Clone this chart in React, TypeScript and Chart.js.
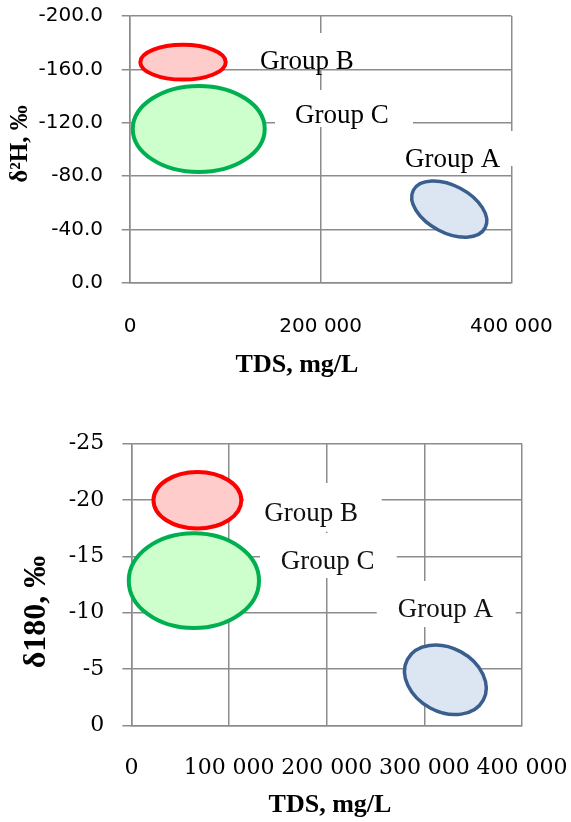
import React, { useEffect, useRef } from 'react';
import { Chart, registerables } from 'chart.js';

Chart.register(...registerables);

// ---------------- data ----------------
const groupNames = ['Group A', 'Group B', 'Group C'];

// δ²H vs TDS (upper chart): ellipse centres and semi-axes in data units
const h2TdsCenter = [334800, 55600, 72100];
const h2DeltaCenter = [-55.2, -165.4, -115.3];
const h2TdsRadius = [42500, 44800, 69200];
const h2DeltaRadius = [17.7, 13.1, 32.3];
const h2TiltDeg = [27.7, 0, 0];
const h2YTicks = [-200, -160, -120, -80, -40, 0];
const h2XTicks = [0, 200000, 400000];

// δ18O vs TDS (lower chart)
const o18TdsCenter = [321500, 67500, 63900];
const o18DeltaCenter = [-4.04, -19.98, -12.84];
const o18TdsRadius = [44100, 45000, 66700];
const o18DeltaRadius = [2.84, 2.51, 4.21];
const o18TiltDeg = [28.3, 0, 0];
const o18YTicks = [-25, -20, -15, -10, -5, 0];
const o18XTicks = [0, 100000, 200000, 300000, 400000];

// ---------------- styles ----------------
const groupStroke = ['#3A5F8E', '#FF0000', '#00B050'];
const groupFill = ['#DCE6F2', '#FFCCCC', '#CCFFCC'];
const groupLineWidth = [3.5, 4, 4];
const gridColor = '#8c8c8c';

const fmtThousands = (v: number) =>
  v === 0 ? '0' : String(v).replace(/\B(?=(\d{3})+(?!\d))/g, ' ');

const zeroPad = (s: any) => {
  s.paddingLeft = 0;
  s.paddingRight = 0;
  s.paddingTop = 0;
  s.paddingBottom = 0;
};

const groupPlugin = {
  id: 'groupShapes',
  afterDatasetsDraw(chart: any, _args: any, opts: any) {
    const { ctx } = chart;
    const xs = chart.scales.x;
    const ys = chart.scales.y;
    ctx.save();
    ctx.fillStyle = '#ffffff';
    opts.boxes.forEach((b: number[]) => ctx.fillRect(b[0], b[1], b[2], b[3]));
    const pts = chart.data.datasets[0].data;
    pts.forEach((p: any, i: number) => {
      const cx = xs.getPixelForValue(p.x);
      const cy = ys.getPixelForValue(p.y);
      const rx = Math.abs(xs.getPixelForValue(p.x + p.rx) - cx);
      const ry = Math.abs(ys.getPixelForValue(p.y + p.ry) - cy);
      ctx.beginPath();
      ctx.ellipse(cx, cy, rx, ry, (p.tilt * Math.PI) / 180, 0, Math.PI * 2);
      ctx.fillStyle = groupFill[i];
      ctx.fill();
      ctx.lineWidth = groupLineWidth[i];
      ctx.strokeStyle = groupStroke[i];
      ctx.stroke();
    });
    ctx.font = opts.labelFont;
    ctx.fillStyle = opts.labelColor;
    ctx.textAlign = 'left';
    ctx.textBaseline = 'alphabetic';
    opts.labels.forEach((l: number[], i: number) => ctx.fillText(groupNames[i], l[0], l[1]));
    ctx.restore();
  },
};

const titlePlugin = {
  id: 'axisTitles',
  afterDraw(chart: any, _args: any, opts: any) {
    const { ctx } = chart;
    ctx.save();
    ctx.font = opts.xFont;
    ctx.fillStyle = '#000';
    ctx.textAlign = 'center';
    ctx.textBaseline = 'alphabetic';
    ctx.fillText(opts.xText, opts.xPos[0], opts.xPos[1]);
    ctx.translate(opts.yPos[0], opts.yPos[1]);
    ctx.rotate(-Math.PI / 2);
    ctx.font = opts.yFont;
    ctx.textBaseline = 'middle';
    ctx.fillText(opts.yText, 0, 0);
    ctx.restore();
  },
};

function makeConfig(p: any) {
  const data = groupNames.map((_, i) => ({
    x: p.cx[i],
    y: p.cy[i],
    rx: p.rx[i],
    ry: p.ry[i],
    tilt: p.tilt[i],
  }));
  return {
    type: 'scatter',
    data: {
      datasets: [{ label: 'groups', data, pointRadius: 0, pointHoverRadius: 0, borderWidth: 0, showLine: false }],
    },
    options: {
      responsive: false,
      animation: false,
      events: [],
      layout: { padding: p.padding, autoPadding: false },
      scales: {
        x: {
          type: 'linear',
          min: p.xTicks[0],
          max: p.xTicks[p.xTicks.length - 1],
          afterBuildTicks: (s: any) => {
            s.ticks = p.xTicks.map((v: number) => ({ value: v }));
          },
          afterFit: (s: any) => {
            s.height = p.xAxisHeight;
            zeroPad(s);
          },
          ticks: {
            autoSkip: false,
            maxRotation: 0,
            minRotation: 0,
            padding: p.xTickPad,
            color: '#000',
            font: p.xTickFont,
            callback: (v: number) => fmtThousands(v),
          },
          grid: { color: gridColor, lineWidth: 1.5, drawTicks: false },
          border: { color: gridColor, width: 1.5 },
        },
        y: {
          type: 'linear',
          reverse: true,
          min: p.yTicks[0],
          max: p.yTicks[p.yTicks.length - 1],
          afterBuildTicks: (s: any) => {
            s.ticks = p.yTicks.map((v: number) => ({ value: v }));
          },
          afterFit: (s: any) => {
            s.width = p.yAxisWidth;
            zeroPad(s);
          },
          ticks: {
            padding: p.yTickPad,
            color: '#000',
            font: p.yTickFont,
            callback: p.yFmt,
          },
          grid: { color: gridColor, lineWidth: 1.5, tickLength: p.tickLength },
          border: { color: gridColor, width: 1.5 },
        },
      },
      plugins: {
        legend: { display: false },
        tooltip: { enabled: false },
        groupShapes: {
          boxes: p.boxes,
          labels: p.labels,
          labelFont: p.labelFont,
          labelColor: p.labelColor,
        },
        axisTitles: p.titles,
      },
    },
    plugins: [groupPlugin, titlePlugin],
  };
}

export default function App() {
  const topRef = useRef<HTMLCanvasElement>(null);
  const botRef = useRef<HTMLCanvasElement>(null);

  useEffect(() => {
    const topCfg = makeConfig({
      cx: h2TdsCenter,
      cy: h2DeltaCenter,
      rx: h2TdsRadius,
      ry: h2DeltaRadius,
      tilt: h2TiltDeg,
      xTicks: h2XTicks,
      yTicks: h2YTicks,
      padding: { left: 0, right: 59.6, top: 16, bottom: 0 },
      xAxisHeight: 107.3,
      yAxisWidth: 130,
      xTickPad: 32,
      yTickPad: 18.7,
      tickLength: 8.3,
      xTickFont: { family: '"DejaVu Sans"', size: 20 },
      yTickFont: { family: '"DejaVu Sans"', size: 20 },
      yFmt: (v: number) => Number(v).toFixed(1),
      boxes: [
        [395, 131, 125, 35],
        [250, 33, 112, 35.5],
        [275, 90, 138, 37],
      ],
      labels: [
        [405, 166.7],
        [260, 69.3],
        [295, 123.3],
      ],
      labelFont: '27px "Liberation Serif"',
      labelColor: '#000',
      titles: {
        xFont: 'bold 26px "Liberation Serif"',
        yFont: 'bold 25px "Liberation Serif"',
        xText: 'TDS, mg/L',
        xPos: [297, 372],
        yText: 'δ²H, ‰',
        yPos: [21, 144],
      },
    });
    const botCfg = makeConfig({
      cx: o18TdsCenter,
      cy: o18DeltaCenter,
      rx: o18TdsRadius,
      ry: o18DeltaRadius,
      tilt: o18TiltDeg,
      xTicks: o18XTicks,
      yTicks: o18YTicks,
      padding: { left: 0, right: 49, top: 53.7, bottom: 0 },
      xAxisHeight: 96.7,
      yAxisWidth: 131.5,
      xTickPad: 29.5,
      yTickPad: 18.1,
      tickLength: 9.1,
      xTickFont: { family: '"DejaVu Serif"', size: 22 },
      yTickFont: { family: '"DejaVu Serif"', size: 22 },
      yFmt: (v: number) => String(Math.round(v)),
      boxes: [
        [376.7, 191, 139, 46],
        [244, 93, 137.7, 48.7],
        [260, 143, 136.7, 45],
      ],
      labels: [
        [397.7, 226.7],
        [264.3, 130.7],
        [280.7, 179],
      ],
      labelFont: '27px "Liberation Serif"',
      labelColor: '#111',
      titles: {
        xFont: 'bold 26px "Liberation Serif"',
        yFont: 'bold 32px "Liberation Serif"',
        xText: 'TDS, mg/L',
        xPos: [330, 422.3],
        yText: 'δ180, ‰',
        yPos: [37, 222],
      },
    });
    const c1 = new Chart(topRef.current as HTMLCanvasElement, topCfg as any);
    const c2 = new Chart(botRef.current as HTMLCanvasElement, botCfg as any);
    return () => {
      c1.destroy();
      c2.destroy();
    };
  }, []);

  return (
    <div style={{ position: 'absolute', left: 0, top: 0, width: 571, height: 822, background: '#fff' }}>
      <canvas ref={topRef} width={571} height={390} style={{ position: 'absolute', left: 0, top: 0, display: 'block' }} />
      <canvas ref={botRef} width={571} height={432} style={{ position: 'absolute', left: 0, top: 390, display: 'block' }} />
    </div>
  );
}
